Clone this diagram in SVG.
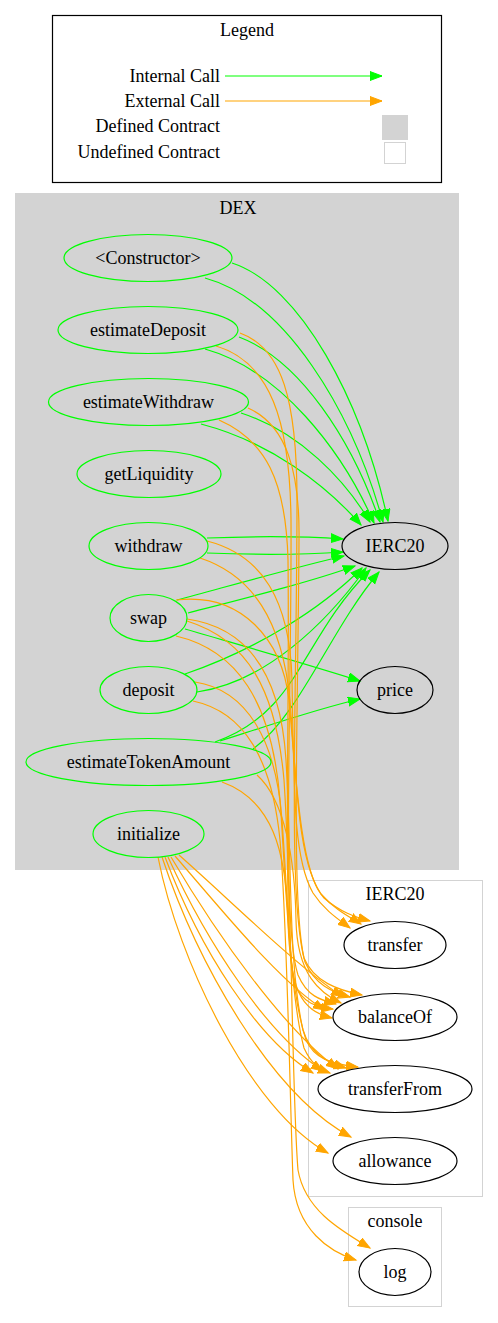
<svg xmlns="http://www.w3.org/2000/svg" width="498" height="1323" viewBox="0 0 498 1323">
<style>
text{font-family:"Liberation Serif","Times New Roman",serif;font-size:18px;fill:#000}
.c{text-anchor:middle}
.r{text-anchor:end}
.fn{fill:none;stroke:#00ff00;stroke-width:1.2}
.ext{fill:none;stroke:#000;stroke-width:1.2}
.g{fill:none;stroke:#00ff00;stroke-width:1.2}
.o{fill:none;stroke:#ffa500;stroke-width:1.2}
</style>
<defs>
<marker id="ag" markerUnits="userSpaceOnUse" markerWidth="14" markerHeight="11" refX="12" refY="5" orient="auto"><path d="M0,0.5 L12,5 L0,9.5 z" fill="#00ff00" stroke="#00ff00"/></marker>
<marker id="ao" markerUnits="userSpaceOnUse" markerWidth="14" markerHeight="11" refX="12" refY="5" orient="auto"><path d="M0,0.5 L12,5 L0,9.5 z" fill="#ffa500" stroke="#ffa500"/></marker>
</defs>
<rect width="498" height="1323" fill="#fff"/>
<g id="legend">
<rect x="52.5" y="15.5" width="389" height="167" fill="#fff" stroke="#000" stroke-width="1.2"/>
<text class="c" x="247" y="36">Legend</text>
<text class="r" x="220" y="82">Internal Call</text>
<text class="r" x="220" y="107">External Call</text>
<text class="r" x="220" y="132">Defined Contract</text>
<text class="r" x="220" y="158">Undefined Contract</text>
<path d="M225,76 L382,76" class="g" marker-end="url(#ag)"/>
<path d="M225,101 L382,101" class="o" marker-end="url(#ao)"/>
<rect x="382" y="115" width="26" height="25" fill="#d3d3d3"/>
<rect x="384.5" y="142.5" width="21" height="21" fill="#fff" stroke="#d3d3d3"/>
</g>
<g id="cluster_DEX">
<rect x="15.5" y="193.5" width="443" height="676" fill="#d3d3d3" stroke="#d3d3d3"/>
<text class="c" x="238" y="214">DEX</text>
</g>
<g id="cluster_IERC20">
<rect x="308.5" y="880.5" width="174" height="316" fill="none" stroke="#d3d3d3"/>
<text class="c" x="395" y="900">IERC20</text>
</g>
<g id="cluster_console">
<rect x="348.5" y="1207.5" width="93" height="99" fill="none" stroke="#d3d3d3"/>
<text class="c" x="395" y="1227">console</text>
</g>
<g id="edges">
<!-- internal calls -->
<path class="g" marker-end="url(#ag)" d="M232,263 C300,285 362,400 388,521"/>
<path class="g" marker-end="url(#ag)" d="M205,278 C285,300 352,410 383,522"/>
<path class="g" marker-end="url(#ag)" d="M239,337 C300,360 352,440 380,522"/>
<path class="g" marker-end="url(#ag)" d="M205,349 C280,370 342,450 374,523"/>
<path class="g" marker-end="url(#ag)" d="M241,413 C300,432 345,480 370,522"/>
<path class="g" marker-end="url(#ag)" d="M201,424 C270,442 326,485 361,525"/>
<path class="g" marker-end="url(#ag)" d="M207,538 C260,536 300,536 343,539"/>
<path class="g" marker-end="url(#ag)" d="M207,553 C260,555 300,555 343,552"/>
<path class="g" marker-end="url(#ag)" d="M177,600 C240,583 300,566 344,556"/>
<path class="g" marker-end="url(#ag)" d="M188,613 C250,597 310,582 355,566"/>
<path class="g" marker-end="url(#ag)" d="M185,629 C250,648 310,665 360,681"/>
<path class="g" marker-end="url(#ag)" d="M185,674 C255,650 320,610 362,568"/>
<path class="g" marker-end="url(#ag)" d="M197,692 C265,682 325,625 366,568"/>
<path class="g" marker-end="url(#ag)" d="M215,742 C300,712 300,640 370,570"/>
<path class="g" marker-end="url(#ag)" d="M253,749 C300,715 330,630 379,572"/>
<path class="g" marker-end="url(#ag)" d="M220,741 C270,725 320,708 360,699"/>
<!-- external calls: estimateDeposit -->
<path class="o" marker-end="url(#ao)" d="M240,333 C282,348 297,400 297,500 C297,700 287,900 305,962 C315,985 332,992 350,997"/>
<path class="o" marker-end="url(#ao)" d="M216,346 C270,362 290,420 291,520 C292,700 281,925 298,975 C307,996 320,1000 336,1004"/>
<!-- estimateWithdraw -->
<path class="o" marker-end="url(#ao)" d="M248,408 C286,425 300,470 299,540 C298,720 291,900 304,958 C314,982 338,990 362,995"/>
<path class="o" marker-end="url(#ao)" d="M219,420 C265,440 286,480 288,560 C290,720 282,935 295,985 C303,1003 316,1007 333,1009"/>
<!-- withdraw -->
<path class="o" marker-end="url(#ao)" d="M207,541 C262,555 290,600 292,680 C294,800 294,860 313,893 C324,910 338,919 350,928"/>
<path class="o" marker-end="url(#ao)" d="M200,558 C252,575 282,620 290,700 C297,800 300,870 324,898 C340,912 355,917 370,921"/>
<!-- swap -->
<path class="o" marker-end="url(#ao)" d="M176,600 C242,592 282,640 289,700 C296,780 301,868 321,894 C335,910 350,917 361,924"/>
<path class="o" marker-end="url(#ao)" d="M187,619 C252,628 281,680 286,760 C292,860 288,965 303,1030 C311,1056 330,1063 346,1068"/>
<path class="o" marker-end="url(#ao)" d="M187,621 C248,640 276,690 284,780 C292,900 292,1100 298,1170 C305,1210 340,1230 370,1248"/>
<path class="o" marker-end="url(#ao)" d="M176,636 C236,650 272,700 280,800 C286,880 288,985 306,1040 C314,1058 330,1064 358,1067"/>
<!-- deposit -->
<path class="o" marker-end="url(#ao)" d="M195,682 C247,690 276,740 282,820 C288,900 290,995 304,1048 C312,1066 322,1070 330,1073"/>
<path class="o" marker-end="url(#ao)" d="M193,701 C245,712 272,760 280,840 C287,920 290,1100 293,1180 C296,1230 330,1252 356,1260"/>
<!-- estimateTokenAmount -->
<path class="o" marker-end="url(#ao)" d="M257,775 C285,800 295,860 296,920 C297,975 320,993 341,1003"/>
<path class="o" marker-end="url(#ao)" d="M222,782 C272,800 286,850 288,920 C290,990 300,1010 332,1018"/>
<!-- initialize -->
<path class="o" marker-end="url(#ao)" d="M158,857 C178,960 250,1110 328,1153"/>
<path class="o" marker-end="url(#ao)" d="M162,857 C198,965 272,1095 351,1137"/>
<path class="o" marker-end="url(#ao)" d="M165,857 C200,950 258,1040 313,1073"/>
<path class="o" marker-end="url(#ao)" d="M168,857 C208,945 268,1035 323,1071"/>
<path class="o" marker-end="url(#ao)" d="M171,857 C220,940 285,1030 338,1069"/>
<path class="o" marker-end="url(#ao)" d="M175,856 C222,910 282,985 325,1010"/>
<path class="o" marker-end="url(#ao)" d="M179,855 C230,900 295,965 343,997"/>
</g>
<g id="n_constructor"><ellipse class="fn" cx="148" cy="258" rx="84" ry="23.5"/><text class="c" x="148" y="264">&lt;Constructor&gt;</text></g>
<g id="n_estimateDeposit"><ellipse class="fn" cx="148" cy="330" rx="90" ry="23.5"/><text class="c" x="148" y="336">estimateDeposit</text></g>
<g id="n_estimateWithdraw"><ellipse class="fn" cx="148.5" cy="402" rx="100" ry="23.5"/><text class="c" x="148.5" y="408">estimateWithdraw</text></g>
<g id="n_getLiquidity"><ellipse class="fn" cx="149" cy="474" rx="72" ry="23.5"/><text class="c" x="149" y="480">getLiquidity</text></g>
<g id="n_withdraw"><ellipse class="fn" cx="148.5" cy="546" rx="59.5" ry="23.5"/><text class="c" x="148.5" y="552">withdraw</text></g>
<g id="n_swap"><ellipse class="fn" cx="148.5" cy="618" rx="38.5" ry="23.5"/><text class="c" x="148.5" y="624">swap</text></g>
<g id="n_deposit"><ellipse class="fn" cx="148.5" cy="690" rx="48.5" ry="23.5"/><text class="c" x="148.5" y="696">deposit</text></g>
<g id="n_estimateTokenAmount"><ellipse class="fn" cx="148.5" cy="762" rx="122.5" ry="23.5"/><text class="c" x="148.5" y="768">estimateTokenAmount</text></g>
<g id="n_initialize"><ellipse class="fn" cx="148.5" cy="834" rx="55.5" ry="23.5"/><text class="c" x="148.5" y="840">initialize</text></g>
<g id="n_IERC20"><ellipse class="ext" cx="395" cy="546" rx="53" ry="23.5"/><text class="c" x="395" y="552">IERC20</text></g>
<g id="n_price"><ellipse class="ext" cx="395" cy="690" rx="38" ry="23.5"/><text class="c" x="395" y="696">price</text></g>
<g id="n_transfer"><ellipse class="ext" cx="395" cy="945" rx="51" ry="23.5"/><text class="c" x="395" y="951">transfer</text></g>
<g id="n_balanceOf"><ellipse class="ext" cx="395" cy="1017" rx="62" ry="23.5"/><text class="c" x="395" y="1023">balanceOf</text></g>
<g id="n_transferFrom"><ellipse class="ext" cx="395" cy="1089" rx="77" ry="23.5"/><text class="c" x="395" y="1095">transferFrom</text></g>
<g id="n_allowance"><ellipse class="ext" cx="395" cy="1161" rx="62" ry="23.5"/><text class="c" x="395" y="1167">allowance</text></g>
<g id="n_log"><ellipse class="ext" cx="395" cy="1272" rx="36" ry="23.5"/><text class="c" x="395" y="1278">log</text></g>
</svg>
